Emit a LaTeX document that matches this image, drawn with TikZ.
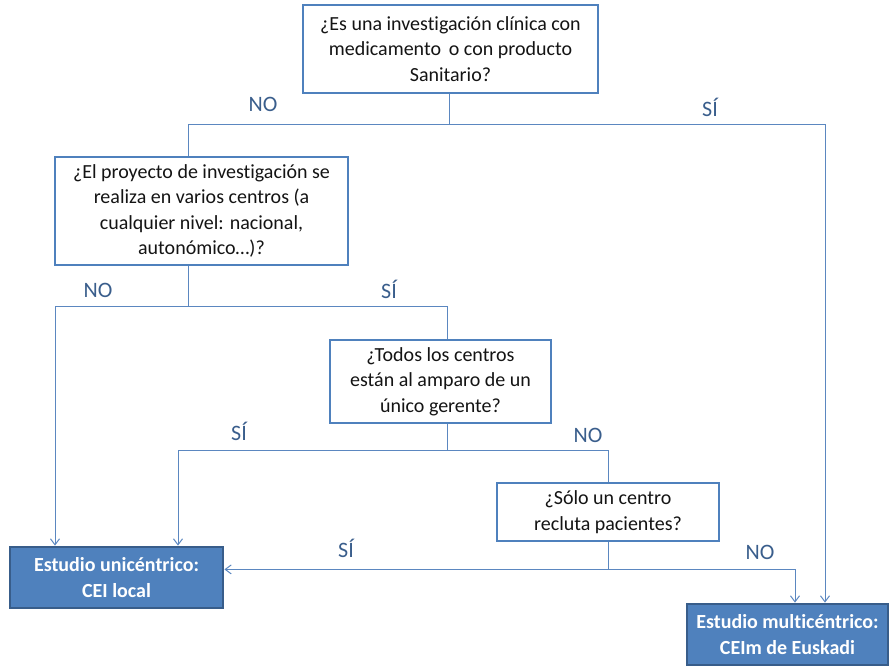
\documentclass[tikz,border=0pt]{standalone}
\usepackage{fontspec}
\setmainfont{Carlito}[Ligatures=NoCommon]
\usetikzlibrary{arrows.meta,calc}
\definecolor{bord}{HTML}{4F81BD}
\definecolor{lnc}{HTML}{5B87C0}
\definecolor{lbl}{HTML}{3A5E8C}
\definecolor{dbord}{HTML}{385D8A}
\begin{document}
\begin{tikzpicture}[x=1pt,y=-1pt,
  qbox/.style={draw=bord,line width=2.8pt,fill=white,align=center,inner sep=0pt,
    font=\fontsize{20}{25.5}\selectfont,text=black!92},
  rbox/.style={draw=dbord,line width=2.8pt,fill=bord,align=center,inner sep=0pt,
    font=\fontsize{20}{25.5}\selectfont\bfseries,text=white},
  ln/.style={draw=lnc,line width=1pt},
  arr/.style={ln,-{Straight Barb[length=6pt,width=9pt,line width=1pt]}},
  lab/.style={text=lbl,font=\fontsize{22}{24}\selectfont,inner sep=0pt}]
\useasboundingbox (0,0) rectangle (890,666);
\node[qbox,minimum width=295,minimum height=88] (b1) at (450.5,49)
  {¿Es una investigación clínica con\\medicamento\, o con producto\\Sanitario?};
\node[qbox,minimum width=293,minimum height=108] (b2) at (201.5,211)
  {¿El proyecto de investigación se\\realiza en varios centros (a\\cualquier nivel: nacional,\\autonómico…)?};
\node[qbox,minimum width=221,minimum height=83] (b3) at (440.5,381.5)
  {¿Todos los centros\\están al amparo de un\\único gerente?};
\node[qbox,minimum width=222,minimum height=58] (b4) at (608,512)
  {¿Sólo un centro\\recluta pacientes?};
\node[rbox,minimum width=213,minimum height=61] (b5) at (116.5,577.5)
  {Estudio unicéntrico:\\CEI local};
\node[rbox,minimum width=201,minimum height=61] (b6) at (787.5,634.5)
  {Estudio multicéntrico:\\CEIm de Euskadi};

\draw[ln] ([xshift=-1.5pt]b1.south) -- ++(0,30) coordinate (j1);
\draw[ln] (j1) -| ([xshift=-13.5pt]b2.north);
\draw[arr] (j1) -| ([xshift=37.5pt]b6.north);

\draw[ln] ([xshift=-13.5pt]b2.south) -- ++(0,40) coordinate (j2);
\draw[arr] (j2) -| ([xshift=-61.5pt]b5.north);
\draw[ln] (j2) -| ([xshift=6.5pt]b3.north);

\draw[ln] ([xshift=6.5pt]b3.south) -- ++(0,26) coordinate (j3);
\draw[arr] (j3) -| ([xshift=61.5pt]b5.north);
\draw[ln] (j3) -| (b4.north);

\draw[ln] (b4.south) -- ++(0,27) coordinate (j4);
\draw[arr] (j4) -- (b5.east |- j4);
\draw[arr] (j4) -| ([xshift=7.5pt]b6.north);

\node[lab] (l1) at (263,104) {NO};
\node[lab] (l2) at (710,107) {SÍ};
\node[lab] (l3) at (98,290) {NO};
\node[lab] (l4) at (389,289) {SÍ};
\node[lab] (l5) at (239,431) {SÍ};
\node[lab] (l6) at (588,435) {NO};
\node[lab] (l7) at (346,548) {SÍ};
\node[lab] (l8) at (760,552) {NO};
\end{tikzpicture}
\end{document}
